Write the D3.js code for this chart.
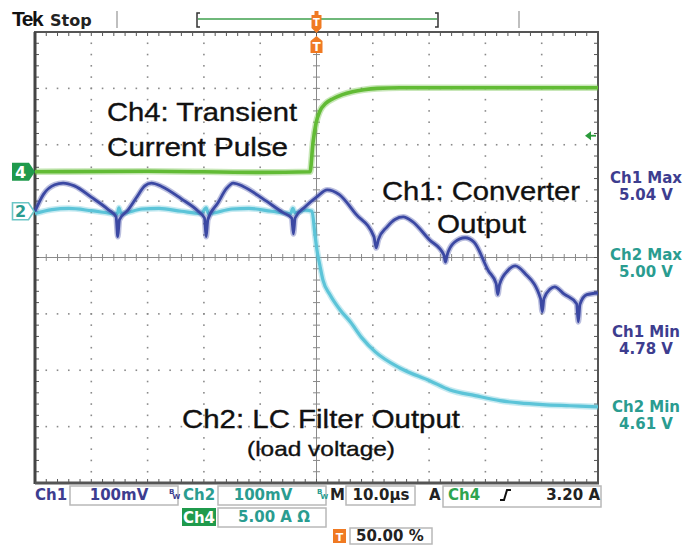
<!DOCTYPE html>
<html>
<head>
<meta charset="utf-8">
<script src="https://cdn.jsdelivr.net/npm/d3@7"></script>
<style>
  body { margin: 0; background: #fff; }
  svg { display: block; }
</style>
</head>
<body>
<svg id="scope"></svg>
<script>
// time axis in µs (10 µs/div, trigger at 0), Ch1/Ch2 in volts, Ch4 in amps
const timeDomain = [-50, 50]
const voltCenter = 4.908
const voltsPerDiv = 0.1
const ampsPerDiv = 5
const ch4ZeroDiv = 1.52      // ch4 ground marker, divisions above centre
const ch2Marker = 4.99
const triggerLevel = 3.2

const ch1Trace = [
  [-50, 4.990], [-48.5, 5.020], [-46.5, 5.037], [-45.0, 5.040], [-43, 5.035], [-40, 5.015], [-37, 4.993],
  [-35.6, 4.980], [-35.3, 4.945], [-35.0, 4.975], [-33.5, 4.992], [-32, 5.014], [-30.5, 5.035], [-29.3, 5.040],
  [-27.5, 5.034], [-24, 5.012], [-21, 4.990], [-19.9, 4.978], [-19.6, 4.945], [-19.3, 4.975], [-17.5, 5.005],
  [-16, 5.030], [-14.8, 5.040], [-13, 5.034], [-9.5, 5.012], [-6, 4.988], [-4.4, 4.978], [-4.1, 4.950],
  [-3.8, 4.978], [-2, 4.998], [0, 5.015], [1.9, 5.028], [4, 5.020], [7, 4.985], [10.2, 4.945], [10.6, 4.925],
  [11, 4.940], [12.5, 4.962], [14, 4.976], [15.4, 4.980], [17, 4.972], [20, 4.940], [22.6, 4.913], [22.9, 4.900],
  [23.2, 4.912], [24.5, 4.935], [26.4, 4.943], [28, 4.935], [30.5, 4.885], [31.9, 4.862], [32.2, 4.842],
  [32.5, 4.860], [34, 4.885], [35.3, 4.893], [37, 4.880], [39.8, 4.835], [40.1, 4.812], [40.4, 4.835],
  [41.5, 4.852], [42.3, 4.856], [44, 4.843], [46.2, 4.826], [46.5, 4.794], [46.8, 4.825], [48, 4.842], [50, 4.845]
]

const ch2Trace = [
  [-50, 4.986], [-47, 4.993], [-44, 4.995], [-40, 4.991], [-37, 4.987], [-35.4, 4.985], [-35.1, 4.996],
  [-34.7, 4.986], [-31, 4.994], [-28, 4.995], [-24, 4.990], [-20.5, 4.986], [-19.6, 4.996], [-19.2, 4.986],
  [-15, 4.994], [-12, 4.995], [-8, 4.990], [-4.6, 4.986], [-4.2, 4.995], [-3.8, 4.987], [-2, 4.992],
  [-0.8, 4.990], [-0.27, 4.948], [0.09, 4.921], [0.62, 4.893], [1.15, 4.868], [2.4, 4.842], [4.2, 4.815],
  [6.0, 4.794], [8.1, 4.765], [10.4, 4.741], [14.8, 4.712], [20.2, 4.689], [23.7, 4.673], [28.2, 4.663],
  [32.6, 4.654], [36, 4.650], [40.2, 4.647], [45.0, 4.645], [50, 4.643]
]

const ch4Trace = [
  [-50, 0], [-30, 0.05], [-10, -0.05], [-1.15, 0], [-0.62, 2.6], [-0.09, 4.3], [0.62, 5.4], [1.6, 6.05],
  [3.0, 6.5], [4.6, 6.85], [6.4, 7.1], [8.4, 7.28], [10.8, 7.4], [14.8, 7.45], [30, 7.45], [50, 7.45]
]

const measureLabels = [
  { name: 'Ch1 Max', value: '5.04 V', ch: 'ch1' },
  { name: 'Ch2 Max', value: '5.00 V', ch: 'ch2' },
  { name: 'Ch1 Min', value: '4.78 V', ch: 'ch1' },
  { name: 'Ch2 Min', value: '4.61 V', ch: 'ch2' }
]

const annotations = [
  { text: 'Ch4: Transient', x: 107, y: 121, len: 190, size: 26 },
  { text: 'Current Pulse', x: 107, y: 156, len: 181, size: 26 },
  { text: 'Ch1: Converter', x: 382, y: 200, len: 198, size: 26 },
  { text: 'Output', x: 437, y: 233, len: 89, size: 26 },
  { text: 'Ch2: LC Filter Output', x: 182, y: 428, len: 278, size: 26 },
  { text: '(load voltage)', x: 247, y: 456, len: 148, size: 21 }
]

/* CONFIG */
const config = {
  width: 699,
  height: 546,
  plot: { left: 35, right: 598, top: 32, bottom: 483 },
  colors: {
    ch1: '#3b48a3', ch1Text: '#3d3d8f',
    ch2: '#5cc4d8', ch2Text: '#2a9c90',
    ch4: '#62bb35', ch4Text: '#2ea44f', ch4Tag: '#1f9a4c',
    grid: '#8a8a8a', frame: '#555', orange: '#f07a22', box: '#b8b8b8'
  }
}
const plot = config.plot
const C = config.colors

const svg = d3.select('#scope')
  .attr('width', config.width)
  .attr('height', config.height)

const x = d3.scaleLinear().domain(timeDomain).range([plot.left, plot.right])
const yV = d3.scaleLinear()
  .domain([voltCenter - 4 * voltsPerDiv, voltCenter + 4 * voltsPerDiv])
  .range([plot.bottom, plot.top])
const yA = d3.scaleLinear()
  .domain([(-4 - ch4ZeroDiv) * ampsPerDiv, (4 - ch4ZeroDiv) * ampsPerDiv])
  .range([plot.bottom, plot.top])

const majorT = d3.range(-50, 50.001, 10)
const minorT = d3.range(-50, 50.001, 2)
const majorV = d3.range(-4, 4.001, 1).map(d => voltCenter + d * voltsPerDiv)
const minorV = d3.range(-20, 20.001, 1).map(d => voltCenter + d * voltsPerDiv / 5)

// ---- graticule dots
const grid = svg.append('g')
const dots = []
majorT.slice(1, -1).filter(t => t !== 0).forEach(t =>
  minorV.slice(1, -1).forEach(v => dots.push([x(t), yV(v)])))
majorV.slice(1, -1).filter((v, i) => i !== 3).forEach(v =>
  minorT.slice(1, -1).forEach(t => dots.push([x(t), yV(v)])))
grid.selectAll('rect.dot').data(dots).join('rect')
  .attr('class', 'dot')
  .attr('x', d => d[0] - 0.8).attr('y', d => d[1] - 0.8)
  .attr('width', 1.6).attr('height', 1.6)
  .attr('fill', C.grid)

// centre axes with ticks
grid.append('line')
  .attr('x1', x(0)).attr('x2', x(0)).attr('y1', plot.top).attr('y2', plot.bottom)
  .attr('stroke', C.grid).attr('stroke-width', 1)
grid.append('line')
  .attr('x1', plot.left).attr('x2', plot.right).attr('y1', yV(voltCenter)).attr('y2', yV(voltCenter))
  .attr('stroke', C.grid).attr('stroke-width', 1)
grid.selectAll('line.vtick').data(minorV).join('line')
  .attr('class', 'vtick')
  .attr('x1', x(0) - 3.5).attr('x2', x(0) + 3.5)
  .attr('y1', d => yV(d)).attr('y2', d => yV(d))
  .attr('stroke', C.grid)
grid.selectAll('line.htick').data(minorT).join('line')
  .attr('class', 'htick')
  .attr('y1', yV(voltCenter) - 3.5).attr('y2', yV(voltCenter) + 3.5)
  .attr('x1', d => x(d)).attr('x2', d => x(d))
  .attr('stroke', C.grid)

// frame ticks
const frame = svg.append('g')
minorT.forEach(t => {
  frame.append('line').attr('x1', x(t)).attr('x2', x(t)).attr('y1', plot.top).attr('y2', plot.top + 4)
    .attr('stroke', C.frame)
  frame.append('line').attr('x1', x(t)).attr('x2', x(t)).attr('y1', plot.bottom - 4).attr('y2', plot.bottom)
    .attr('stroke', C.frame)
})
minorV.forEach(v => {
  frame.append('line').attr('x1', plot.left).attr('x2', plot.left + 4).attr('y1', yV(v)).attr('y2', yV(v))
    .attr('stroke', C.frame)
  frame.append('line').attr('x1', plot.right - 4).attr('x2', plot.right).attr('y1', yV(v)).attr('y2', yV(v))
    .attr('stroke', C.frame)
})
frame.append('rect')
  .attr('x', plot.left).attr('y', plot.top)
  .attr('width', plot.right - plot.left).attr('height', plot.bottom - plot.top)
  .attr('fill', 'none').attr('stroke', C.frame).attr('stroke-width', 2)
frame.append('line')
  .attr('x1', plot.left).attr('x2', plot.left).attr('y1', plot.top).attr('y2', plot.bottom + 1)
  .attr('stroke', '#444').attr('stroke-width', 3)
frame.append('line')
  .attr('x1', plot.left).attr('x2', plot.right + 1).attr('y1', plot.bottom).attr('y2', plot.bottom)
  .attr('stroke', '#555').attr('stroke-width', 3)

// ---- traces
const traces = svg.append('g')
function drawTrace(data, yScale, color, w) {
  const line = d3.line().x(d => x(d[0])).y(d => yScale(d[1])).curve(d3.curveMonotoneX)
  traces.append('path').datum(data).attr('d', line)
    .attr('fill', 'none').attr('stroke', color).attr('stroke-width', w + 3)
    .attr('stroke-opacity', 0.35).attr('stroke-linejoin', 'round')
  traces.append('path').datum(data).attr('d', line)
    .attr('fill', 'none').attr('stroke', color).attr('stroke-width', w)
    .attr('stroke-linejoin', 'round')
}
drawTrace(ch2Trace, yV, C.ch2, 3.2)
drawTrace(ch1Trace, yV, C.ch1, 2.8)
drawTrace(ch4Trace, yA, C.ch4, 3.6)

// ---- channel markers on the left
const m4 = yA(0), m2 = yV(ch2Marker)
svg.append('path')
  .attr('d', `M12,${m4 - 9}H29L35,${m4}L29,${m4 + 9}H12Z`)
  .attr('fill', C.ch4Tag)
svg.append('text').attr('x', 20.5).attr('y', m4 + 6).attr('text-anchor', 'middle')
  .attr('font-family', 'DejaVu Sans').attr('font-weight', 'bold').attr('font-size', 16)
  .attr('fill', '#fff').text('4')
svg.append('path')
  .attr('d', `M12.5,${m2 - 8.5}H28.5L34,${m2}L28.5,${m2 + 8.5}H12.5Z`)
  .attr('fill', '#fff').attr('stroke', '#6cc6c6').attr('stroke-width', 1.6)
svg.append('text').attr('x', 20.5).attr('y', m2 + 6).attr('text-anchor', 'middle')
  .attr('font-family', 'DejaVu Sans').attr('font-weight', 'bold').attr('font-size', 16)
  .attr('fill', C.ch2Text).text('2')

// trigger level arrow on the right
const ty = yA(triggerLevel)
svg.append('path')
  .attr('d', `M585,${ty}L591,${ty - 4.5}V${ty + 4.5}Z`).attr('fill', '#2a9a3a')
svg.append('line').attr('x1', 590).attr('x2', 596).attr('y1', ty).attr('y2', ty)
  .attr('stroke', '#2a9a3a').attr('stroke-width', 1.8)

// ---- annotations
svg.selectAll('text.note').data(annotations).join('text')
  .attr('class', 'note')
  .attr('x', d => d.x).attr('y', d => d.y)
  .attr('textLength', d => d.len).attr('lengthAdjust', 'spacingAndGlyphs')
  .attr('font-family', 'Liberation Sans, Arial, sans-serif')
  .attr('font-size', d => d.size)
  .attr('fill', '#111').attr('stroke', '#111').attr('stroke-width', 0.35)
  .text(d => d.text)

// ---- measurement readouts
const measY = [183, 260, 337, 412]
measureLabels.forEach((m, i) => {
  const col = m.ch === 'ch1' ? C.ch1Text : C.ch2Text
  const g = svg.append('g').attr('font-family', 'DejaVu Sans').attr('font-weight', 'bold')
    .attr('font-size', 15).attr('fill', col).attr('text-anchor', 'middle')
  g.append('text').attr('x', 646).attr('y', measY[i]).text(m.name)
  g.append('text').attr('x', 646).attr('y', measY[i] + 17).text(m.value)
})

// ---- top status bar
svg.append('text').attr('x', 12).attr('y', 26)
  .attr('font-family', 'Liberation Sans').attr('font-weight', 'bold').attr('font-size', 21)
  .attr('letter-spacing', -1.5).attr('fill', '#111').text('Tek')
svg.append('text').attr('x', 50).attr('y', 26)
  .attr('font-family', 'DejaVu Sans').attr('font-weight', 'bold').attr('font-size', 16)
  .attr('fill', '#222').text('Stop')
;[117, 519].forEach(px => svg.append('line').attr('x1', px).attr('x2', px).attr('y1', 11).attr('y2', 28)
  .attr('stroke', '#aaa').attr('stroke-width', 1.5))
svg.append('line').attr('x1', 198).attr('x2', 437).attr('y1', 19).attr('y2', 19)
  .attr('stroke', '#6fb87a').attr('stroke-width', 2)
svg.append('path').attr('d', 'M200,13H197V27H200').attr('fill', 'none').attr('stroke', '#333').attr('stroke-width', 1.5)
svg.append('path').attr('d', 'M435,13H438V27H435').attr('fill', 'none').attr('stroke', '#333').attr('stroke-width', 1.5)

// trigger position markers
const tx = x(0)
svg.append('path')
  .attr('d', `M${tx - 2},11H${tx + 2}V15H${tx + 5}V28L${tx},33L${tx - 5},28V15H${tx - 2}Z`)
  .attr('fill', C.orange)
svg.append('text').attr('x', tx).attr('y', 26).attr('text-anchor', 'middle')
  .attr('font-family', 'DejaVu Sans').attr('font-weight', 'bold').attr('font-size', 10)
  .attr('fill', '#fff').text('T')
svg.append('path')
  .attr('d', `M${tx},36L${tx + 6},41V53H${tx - 6}V41Z`)
  .attr('fill', C.orange)
svg.append('text').attr('x', tx).attr('y', 51).attr('text-anchor', 'middle')
  .attr('font-family', 'DejaVu Sans').attr('font-weight', 'bold').attr('font-size', 12)
  .attr('fill', '#fff').text('T')

// ---- bottom readouts
const bottom = svg.append('g').attr('font-family', 'DejaVu Sans').attr('font-weight', 'bold').attr('font-size', 15)
function box(x0, y0, w, h) {
  bottom.append('rect').attr('x', x0).attr('y', y0).attr('width', w).attr('height', h)
    .attr('fill', 'none').attr('stroke', C.box).attr('stroke-width', 1.5)
}
function label(txt, px, py, col, anchor) {
  bottom.append('text').attr('x', px).attr('y', py).attr('fill', col)
    .attr('text-anchor', anchor || 'start').text(txt)
}
// bandwidth-limit glyph: small B over W, one text element
function bwIcon(px, col) {
  const t = bottom.append('text').attr('x', px).attr('y', 494).attr('font-size', 7).attr('fill', col)
  t.append('tspan').text('B')
  t.append('tspan').attr('dx', -1.5).attr('dy', 5).text('W')
}
label('Ch1', 35, 500, C.ch1Text)
box(70, 486, 108, 19)
label('100mV', 119, 500, C.ch1Text, 'middle')
bwIcon(169, C.ch1Text)
label('Ch2', 183, 500, C.ch2Text)
box(218, 486, 108, 19)
label('100mV', 263, 500, C.ch2Text, 'middle')
bwIcon(317, C.ch2Text)
label('M', 330, 500, '#222')
box(346, 486, 69, 19)
label('10.0µs', 381, 500, '#222', 'middle')
label('A', 429, 500, '#222')
box(443, 486, 158, 21)
label('Ch4', 448, 500, C.ch4Text)
bottom.append('path').attr('d', 'M500,500H504L507,490H511').attr('fill', 'none')
  .attr('stroke', '#111').attr('stroke-width', 2)
label('3.20 A', 600, 500, '#222', 'end')

bottom.append('rect').attr('x', 182).attr('y', 508).attr('width', 34).attr('height', 18).attr('fill', C.ch4Tag)
label('Ch4', 199, 523, '#fff', 'middle')
box(218, 508, 108, 19)
label('5.00 A Ω', 274, 522, C.ch2Text, 'middle')

bottom.append('rect').attr('x', 333).attr('y', 529).attr('width', 13).attr('height', 14).attr('fill', C.orange)
bottom.append('text').attr('x', 339.5).attr('y', 541).attr('text-anchor', 'middle').attr('font-size', 11)
  .attr('fill', '#fff').text('T')
box(350, 528, 82, 16)
label('50.00 %', 356, 541, '#222')
</script>
</body>
</html>
